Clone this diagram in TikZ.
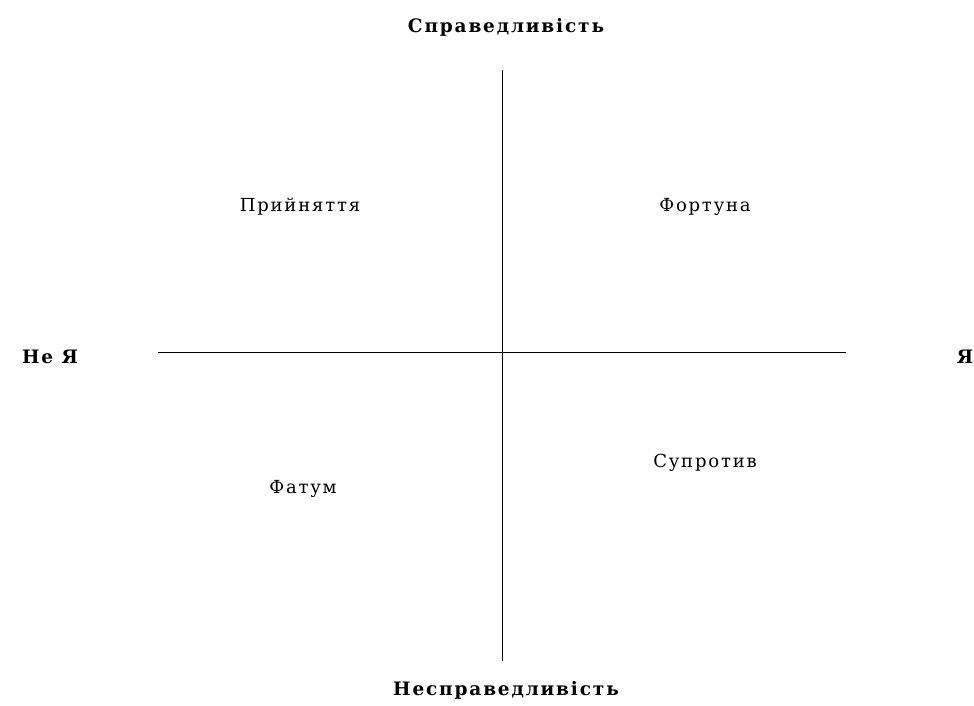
\documentclass[tikz,border=0pt]{standalone}
\usepackage{fontspec}
\setmainfont{DejaVu Serif}[LetterSpace=10]
\usetikzlibrary{positioning}

\begin{document}
\begin{tikzpicture}[
    x=1pt, y=-1pt,
    axislabel/.style={font=\fontsize{18.5}{20}\selectfont\bfseries, inner sep=0pt},
    quadrant/.style={font=\fontsize{18}{20}\selectfont, inner sep=0pt},
    axis/.style={line width=1pt}
]
\useasboundingbox (0,0) rectangle (974,706);

% Axis ends
\coordinate (top) at (502,70);
\coordinate (bottom) at (502,661);
\coordinate (left) at (158,352);
\coordinate (right) at (846,352);

% Labels
\node[axislabel] (just) at (506,27) {Справедливість};
\node[axislabel] (unjust) at (506,690) {Несправедливість};
\node[axislabel] (notme) at (50,357) {Не Я};
\node[axislabel] (me) at (965,357) {Я};

\node[quadrant] (accept) at (300,207) {Прийняття};
\node[quadrant] (fortune) at (705,207) {Фортуна};
\node[quadrant] (fate) at (303,489) {Фатум};
\node[quadrant] (resist) at (705,463) {Супротив};

% Axes
\draw[axis] (top) -- (bottom);
\draw[axis] (left) -- (right);
\end{tikzpicture}
\end{document}
